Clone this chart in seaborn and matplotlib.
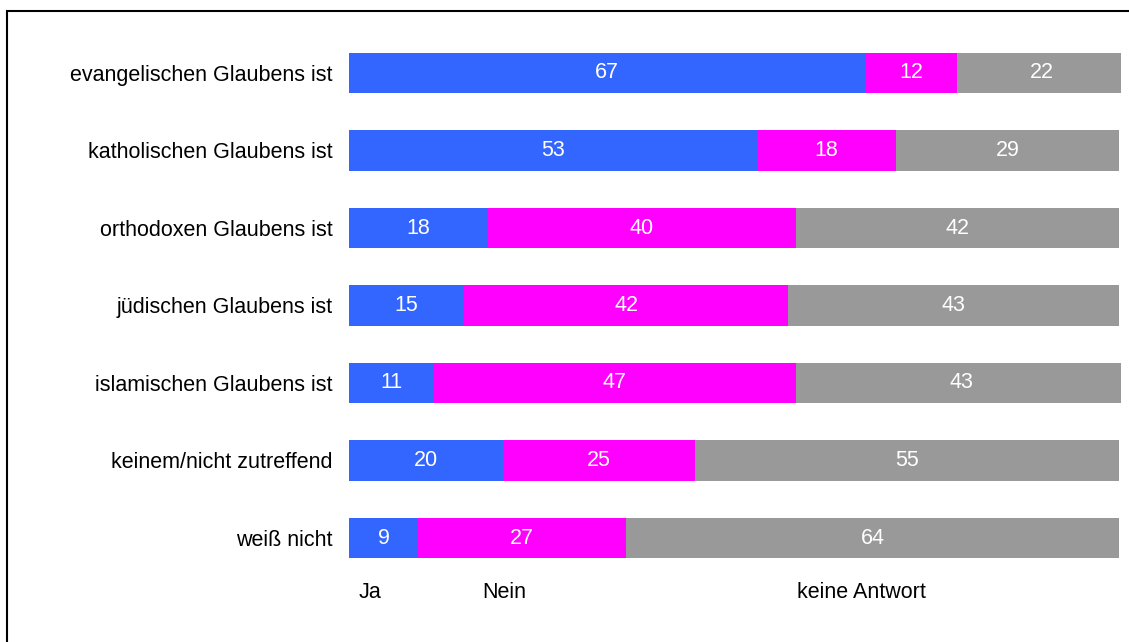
import matplotlib
matplotlib.use("Agg")
import matplotlib.pyplot as plt
import matplotlib.patches as mpatches
import pandas as pd
import seaborn as sns

categories = [
    "evangelischen Glaubens ist",
    "katholischen Glaubens ist",
    "orthodoxen Glaubens ist",
    "jüdischen Glaubens ist",
    "islamischen Glaubens ist",
    "keinem/nicht zutreffend",
    "weiß nicht",
]
ja = [67, 53, 18, 15, 11, 20, 9]
nein = [12, 18, 40, 42, 47, 25, 27]
keine_antwort = [22, 29, 42, 43, 43, 55, 64]
series_names = ["Ja", "Nein", "keine Antwort"]

C_JA, C_NEIN, C_KA = "#3366ff", "#ff00ff", "#999999"

sns.set_theme(style="white")
plt.rcParams["font.family"] = ["Liberation Sans", "DejaVu Sans"]
FS = 15.5

df = pd.DataFrame({"cat": categories, "ja": ja, "nein": nein, "ka": keine_antwort})
df["c1"] = df["ja"]
df["c2"] = df["ja"] + df["nein"]
df["c3"] = df["c2"] + df["ka"]

fig = plt.figure(figsize=(11.29, 6.42), dpi=100)
ax = fig.add_axes([349 / 1129, 1 - 576.75 / 642, 772 / 1129, (576.75 - 34.25) / 642])

# stacked look: draw cumulative totals back to front
for col, colr in [("c3", C_KA), ("c2", C_NEIN), ("c1", C_JA)]:
    sns.barplot(data=df, x=col, y="cat", color=colr, width=0.52,
                linewidth=0, saturation=1, ax=ax, orient="h")

for i, row in df.iterrows():
    starts = [0, row["c1"], row["c2"]]
    for s, v in zip(starts, [row["ja"], row["nein"], row["ka"]]):
        ax.text(s + v / 2, i, str(v), ha="center", va="center",
                color="white", fontsize=FS)

ax.set_xlim(0, 100.26)
ax.set_ylim(6.5, -0.5)
ax.set_xlabel("")
ax.set_ylabel("")
ax.set_xticks([])
ax.tick_params(axis="y", length=0, pad=12, labelsize=FS, labelcolor="black")
for sp in ax.spines.values():
    sp.set_visible(False)

# legend as plain text labels
for name, xpx in zip(series_names, [359, 482, 797]):
    fig.text(xpx / 1129, 1 - 592 / 642, name, ha="left", va="center",
             fontsize=FS, color="black")

fig.patches.append(mpatches.Rectangle((7 / 1129, -0.1), 1.2, 1 - 11 / 642 + 0.1,
                                      transform=fig.transFigure, fill=False,
                                      edgecolor="black", linewidth=1.5))

fig.savefig("out.png", dpi=100)
